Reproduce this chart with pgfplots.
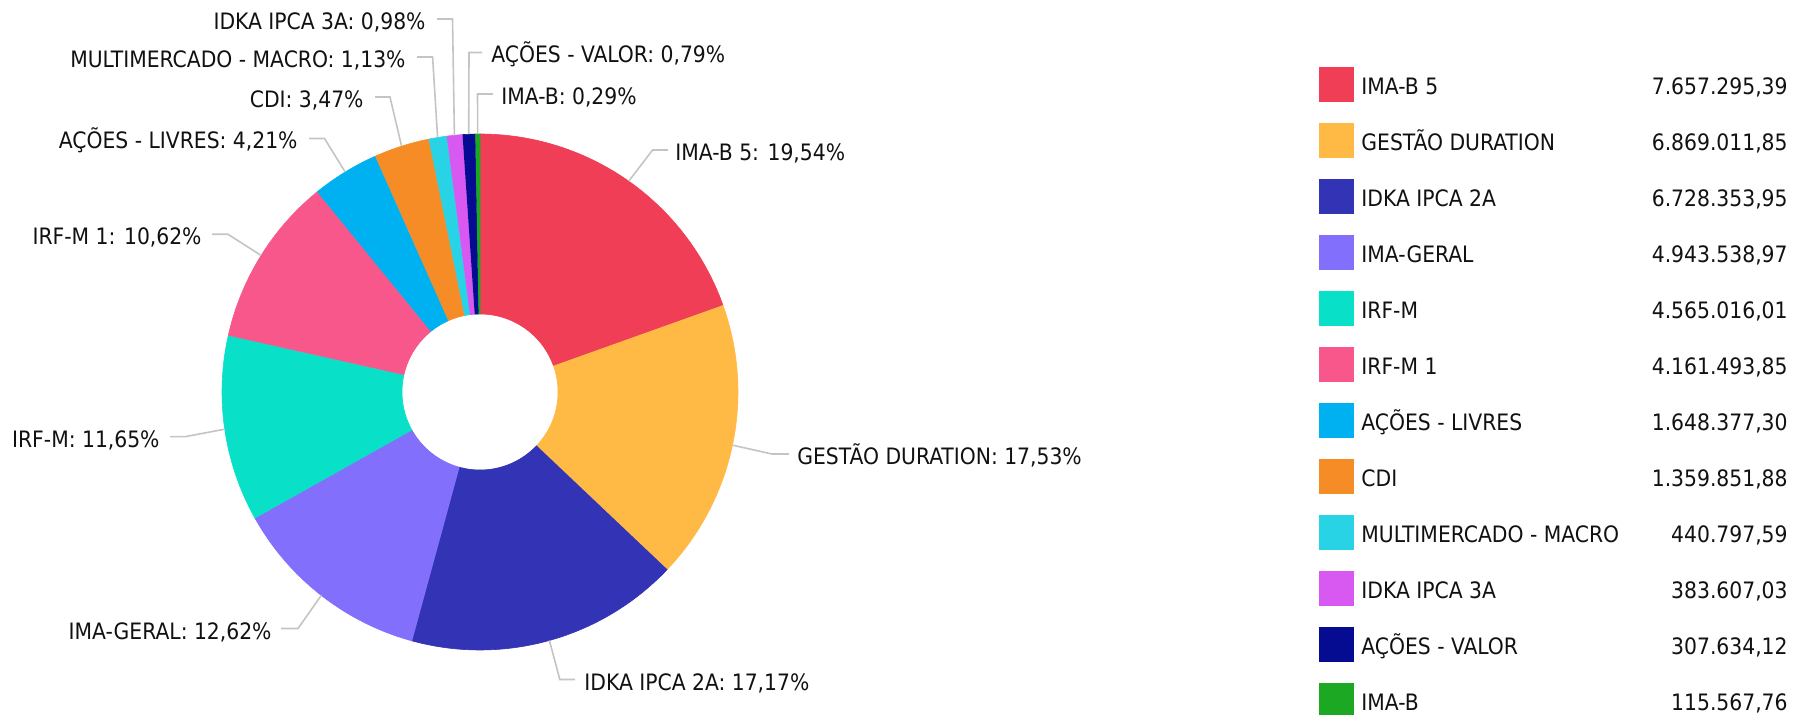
\documentclass[border=0pt]{standalone}
\usepackage{pgfplots}
\pgfplotsset{compat=1.18}
\usepackage{fontspec}
\setmainfont{DejaVu Sans Condensed}

\definecolor{c1}{HTML}{EF3E55}
\definecolor{c2}{HTML}{FFBA45}
\definecolor{c3}{HTML}{3333B5}
\definecolor{c4}{HTML}{826FFC}
\definecolor{c5}{HTML}{08E0C7}
\definecolor{c6}{HTML}{F8578C}
\definecolor{c7}{HTML}{00B1F2}
\definecolor{c8}{HTML}{F68C26}
\definecolor{c9}{HTML}{27D3E4}
\definecolor{c10}{HTML}{D858F2}
\definecolor{c11}{HTML}{060C92}
\definecolor{c12}{HTML}{1CA822}
\definecolor{lead}{HTML}{C4C4C4}
\definecolor{txt}{HTML}{111111}

% running cumulative percentage
\gdef\cum{0}
\newcommand\slice[2]{%
  \pgfmathsetmacro\cumB{\cum+#2}%
  \edef\doslice{\noexpand\addplot[fill=#1, draw=#1, line width=0.3pt, domain=0:3, samples=181]
    ({480+rr(x)*sin(aa(x,\cum*3.6,\cumB*3.6))},{392-rr(x)*cos(aa(x,\cum*3.6,\cumB*3.6))});}%
  \doslice
  \global\let\cum\cumB
}
\newcommand\leg[4]{% color, y, name, value
  \addplot[only marks, mark=square*, mark size=8.5pt, color=#1, mark options={draw=#1,fill=#1,line width=0pt}] coordinates {(1336,#2)};
  \node[anchor=base west, inner sep=0pt] at (axis cs:1361,#2+9.5) {#3};
  \node[anchor=base east, inner sep=0pt] at (axis cs:1788,#2+9.5) {#4};
}

\begin{document}
\begin{tikzpicture}[
  declare function={rr(\t)=258-180*min(max(\t-1,0),1);
                    aa(\t,\a,\b)=\a+(\b-\a)*(min(\t,1)-max(\t-2,0));},
  font=\fontsize{11.3pt}{13pt}\selectfont, color=txt]
\begin{axis}[at={(0,0)}, anchor=south west, scale only axis,
  width=897.5pt, height=357.5pt,
  xmin=0, xmax=1795, ymin=0, ymax=715, y dir=reverse,
  hide axis, clip=false]

% slices (percent of total)
\slice{c1}{19.54}
\slice{c2}{17.53}
\slice{c3}{17.17}
\slice{c4}{12.62}
\slice{c5}{11.65}
\slice{c6}{10.62}
\slice{c7}{4.21}
\slice{c8}{3.47}
\slice{c9}{1.13}
\slice{c10}{0.98}
\slice{c11}{0.79}
\slice{c12}{0.29}

% leader lines
\addplot[lead, line width=0.8pt, no markers] coordinates {(628.7,181.2) (652.6,150) (668,150)};
\addplot[lead, line width=0.8pt, no markers] coordinates {(732.5,445.2) (772,454) (789,454)};
\addplot[lead, line width=0.8pt, no markers] coordinates {(549.4,640.5) (559.8,679.5) (575,679.5)};
\addplot[lead, line width=0.8pt, no markers] coordinates {(468.7,134.2) (469,52.5) (482,52.5)};
\addplot[lead, line width=0.8pt, no markers] coordinates {(477.7,134) (477.5,94) (493,94)};
\addplot[lead, line width=0.8pt, no markers] coordinates {(454.4,135.3) (452.5,19) (437,19)};
\addplot[lead, line width=0.8pt, no markers] coordinates {(437.6,137.5) (432.6,57) (417,57)};
\addplot[lead, line width=0.8pt, no markers] coordinates {(401.6,146.2) (390,97) (375,97)};
\addplot[lead, line width=0.8pt, no markers] coordinates {(345.2,172) (324.5,138.5) (309,138.5)};
\addplot[lead, line width=0.8pt, no markers] coordinates {(261.2,255.5) (228,234.3) (212,234.3)};
\addplot[lead, line width=0.8pt, no markers] coordinates {(224.7,429.2) (185,436.7) (170,436.7)};
\addplot[lead, line width=0.8pt, no markers] coordinates {(321.3,595.3) (298,628.5) (281,628.5)};

% slice labels
\node[anchor=base west, inner sep=0pt] at (axis cs:675,160.5) {IMA-B 5: 19,54\%};
\node[anchor=base west, inner sep=0pt] at (axis cs:797,464.5) {GESTÃO DURATION: 17,53\%};
\node[anchor=base west, inner sep=0pt] at (axis cs:584,690.5) {IDKA IPCA 2A: 17,17\%};
\node[anchor=base west, inner sep=0pt] at (axis cs:491,63) {AÇÕES - VALOR: 0,79\%};
\node[anchor=base west, inner sep=0pt] at (axis cs:501,104.5) {IMA-B: 0,29\%};
\node[anchor=base east, inner sep=0pt] at (axis cs:426,29.5) {IDKA IPCA 3A: 0,98\%};
\node[anchor=base east, inner sep=0pt] at (axis cs:406,67.5) {MULTIMERCADO - MACRO: 1,13\%};
\node[anchor=base east, inner sep=0pt] at (axis cs:364,107.5) {CDI: 3,47\%};
\node[anchor=base east, inner sep=0pt] at (axis cs:298,149) {AÇÕES - LIVRES: 4,21\%};
\node[anchor=base east, inner sep=0pt] at (axis cs:202,245) {IRF-M 1: 10,62\%};
\node[anchor=base east, inner sep=0pt] at (axis cs:160,447.5) {IRF-M: 11,65\%};
\node[anchor=base east, inner sep=0pt] at (axis cs:272,639.5) {IMA-GERAL: 12,62\%};

% legend
\leg{c1}{85}{IMA-B 5}{7.657.295,39}
\leg{c2}{141}{GESTÃO DURATION}{6.869.011,85}
\leg{c3}{197}{IDKA IPCA 2A}{6.728.353,95}
\leg{c4}{253}{IMA-GERAL}{4.943.538,97}
\leg{c5}{309}{IRF-M}{4.565.016,01}
\leg{c6}{365}{IRF-M 1}{4.161.493,85}
\leg{c7}{421}{AÇÕES - LIVRES}{1.648.377,30}
\leg{c8}{477}{CDI}{1.359.851,88}
\leg{c9}{533}{MULTIMERCADO - MACRO}{440.797,59}
\leg{c10}{589}{IDKA IPCA 3A}{383.607,03}
\leg{c11}{645}{AÇÕES - VALOR}{307.634,12}
\leg{c12}{701}{IMA-B}{115.567,76}
\end{axis}
\pgfresetboundingbox
\useasboundingbox (0,0) rectangle (897.5pt,357.5pt);
\end{tikzpicture}
\end{document}
